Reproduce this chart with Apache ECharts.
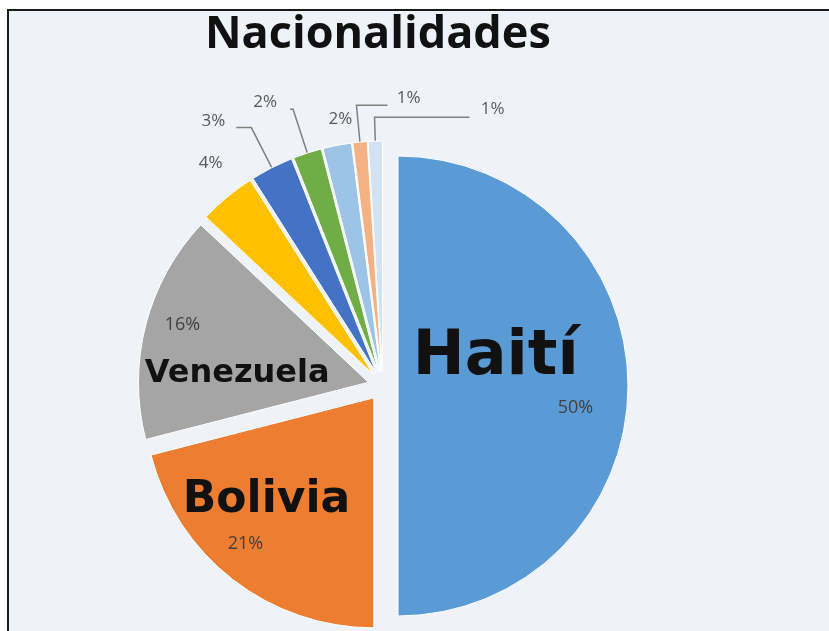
<!DOCTYPE html>
<html><head><meta charset="utf-8">
<script src="https://cdn.jsdelivr.net/npm/echarts@6/dist/echarts.min.js"></script>
<style>
html,body{margin:0;padding:0;background:#fff;width:829px;height:631px;overflow:hidden}
#bg{position:absolute;left:7px;top:9px;right:0;bottom:0;background:#eff3f9;border-left:2px solid #1a1a1a;border-top:2px solid #1a1a1a}
#c{position:absolute;left:0;top:0;width:829px;height:631px}
</style></head>
<body><div id="bg"></div><div id="c"></div>
<script>
// ---- data ----
const categories = ['Haití', 'Bolivia', 'Venezuela', 'Otra 1', 'Otra 2', 'Otra 3', 'Otra 4', 'Otra 5', 'Otra 6'];
const values = [50, 21, 16, 4, 3, 2, 2, 1, 1];
const pctLabels = ['50%', '21%', '16%', '4%', '3%', '2%', '2%', '1%', '1%'];
const titleText = 'Nacionalidades';

// ---- styling ----
const colors = ['#5b9bd5', '#ed7d31', '#a5a5a5', '#ffc000', '#4472c4', '#70ad47', '#9dc3e6', '#f4b183', '#d3e2f3'];
const bigFont = 'DejaVu Sans';
// leader line geometry for the small slices: [show, length, length2]
const leader = {3: [false, 10, 12], 4: [true, 45, 15], 5: [true, 46, 3], 6: [false, 10, 12], 7: [true, 37, -31], 8: [true, 24, -95]};
// text nudges
const shift = {0: [-13, -15], 1: [-35, 22], 2: [-17, 8], 3: [19, -26], 4: [-6, -6], 5: [-8, -7], 6: [34, -16], 7: [38, -7], 8: [40, -8]};

function bigLabel(i) {
  if (i === 0) {
    return {
      position: 'inside',
      formatter: '{n|' + categories[0] + '}\n{p|' + pctLabels[0] + '}',
      rich: {
        n: {fontFamily: bigFont, fontWeight: 'bold', fontSize: 62, color: '#111', align: 'left', lineHeight: 68},
        p: {fontFamily: 'Open Sans', fontSize: 18, color: '#404040', align: 'left', padding: [6, 0, 0, 145], lineHeight: 26}
      }
    };
  }
  if (i === 1) {
    return {
      position: 'inside',
      formatter: '{n|' + categories[1] + '}\n{p|' + pctLabels[1] + '}',
      rich: {
        n: {fontFamily: bigFont, fontWeight: 'bold', fontSize: 44, color: '#111', align: 'left', lineHeight: 52},
        p: {fontFamily: 'Open Sans', fontSize: 18, color: '#404040', align: 'left', padding: [9, 0, 0, 45], lineHeight: 26}
      }
    };
  }
  return {
    position: 'inside',
    formatter: '{p|' + pctLabels[2] + '}\n{n|' + categories[2] + '}',
    rich: {
      n: {fontFamily: bigFont, fontWeight: 'bold', fontSize: 32, color: '#111', align: 'left', lineHeight: 38},
      p: {fontFamily: 'Open Sans', fontSize: 18, color: '#404040', align: 'left', padding: [0, 0, 34, 20], lineHeight: 26}
    }
  };
}

const data = values.map((v, i) => {
  const item = {value: v, name: categories[i], selected: true, itemStyle: {color: colors[i]}};
  if (i < 3) {
    item.label = bigLabel(i);
    item.labelLine = {show: false};
  } else {
    const L = leader[i];
    item.label = {position: 'outside', formatter: pctLabels[i], fontFamily: 'Open Sans', fontSize: 17, color: '#595959'};
    item.labelLine = {show: L[0], length: L[1], length2: L[2], minTurnAngle: 0, maxSurfaceAngle: 180,
      lineStyle: {color: '#808080', width: 1.5}};
  }
  return item;
});

const chart = echarts.init(document.getElementById('c'), null, {renderer: 'canvas'});
chart.setOption({
  backgroundColor: 'transparent',
  animation: false,
  title: {
    text: titleText, left: 200, top: 8,
    textStyle: {fontFamily: 'Open Sans', fontWeight: 'bold', fontSize: 45, color: '#111'}
  },
  series: [{
    type: 'pie',
    center: [383, 386],
    radius: [0, 230],
    startAngle: 90,
    clockwise: true,
    selectedMode: 'multiple',
    selectedOffset: 15,
    avoidLabelOverlap: false,
    itemStyle: {borderColor: '#ffffff', borderWidth: 1},
    emphasis: {disabled: true},
    label: {show: true},
    labelLayout: function (params) {
      const s = shift[params.dataIndex];
      return s ? {dx: s[0], dy: s[1]} : {};
    },
    data: data
  }]
});
</script>
</body></html>
